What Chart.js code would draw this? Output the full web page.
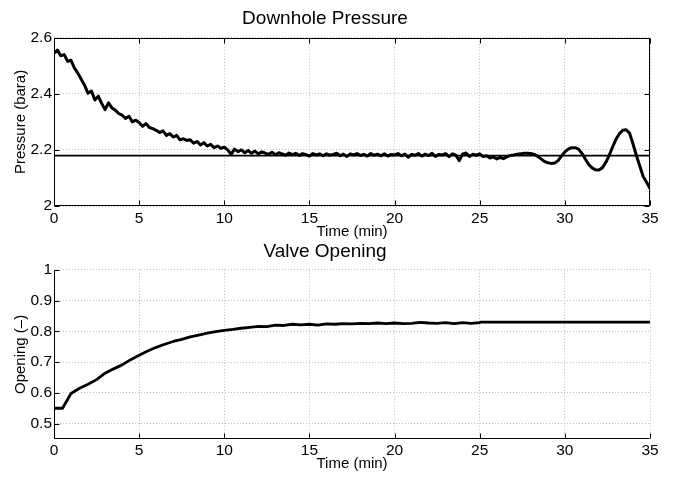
<!DOCTYPE html>
<html><head><meta charset="utf-8">
<script src="https://cdn.jsdelivr.net/npm/chart.js@4.4.0/dist/chart.umd.min.js"></script>
<style>
html,body{margin:0;padding:0;background:#fff;}
#wrap{position:relative;width:675px;height:477px;background:#fff;}
canvas{position:absolute;left:0;}
</style></head><body>
<div id="wrap">
<canvas id="c1" width="675" height="240" style="top:0px"></canvas>
<canvas id="c2" width="675" height="237" style="top:240px"></canvas>
</div>
<script>
// ---- data ----
const timeTicks = [0, 5, 10, 15, 20, 25, 30, 35];
const pressureTicks = [2, 2.2, 2.4, 2.6];
const openingTicks = [0.5, 0.6, 0.7, 0.8, 0.9, 1];

const pressureStep = 0.2; // sample interval (min) of the pressure record
const pressure = [
  2.545,2.556,2.536,2.540,2.516,2.520,2.492,2.474,2.452,2.430,
  2.402,2.410,2.378,2.392,2.366,2.344,2.368,2.350,2.342,2.330,
  2.324,2.312,2.320,2.300,2.306,2.298,2.284,2.294,2.280,2.276,
  2.270,2.262,2.268,2.252,2.258,2.246,2.252,2.236,2.240,2.234,
  2.236,2.224,2.230,2.218,2.226,2.214,2.220,2.208,2.214,2.206,
  2.210,2.200,2.184,2.203,2.194,2.200,2.190,2.198,2.188,2.196,
  2.186,2.193,2.189,2.184,2.192,2.183,2.190,2.186,2.181,2.189,
  2.183,2.188,2.180,2.187,2.183,2.178,2.187,2.182,2.186,2.179,
  2.186,2.181,2.184,2.188,2.179,2.185,2.177,2.186,2.182,2.187,
  2.180,2.184,2.178,2.187,2.181,2.185,2.179,2.186,2.178,2.184,
  2.182,2.187,2.179,2.185,2.174,2.184,2.181,2.187,2.178,2.185,
  2.180,2.188,2.177,2.184,2.182,2.187,2.176,2.186,2.181,2.162,
  2.186,2.189,2.177,2.185,2.181,2.186,2.176,2.179,2.171,2.175,
  2.168,2.173,2.169,2.176,2.180,2.182,2.185,2.186,2.188,2.188,
  2.187,2.184,2.177,2.168,2.159,2.154,2.152,2.153,2.162,2.178,
  2.193,2.203,2.208,2.208,2.203,2.188,2.168,2.148,2.136,2.129,
  2.128,2.136,2.155,2.180,2.210,2.238,2.258,2.270,2.272,2.260,
  2.222,2.180,2.143,2.105,2.085,2.062
];
const setpointTime = [0, 35];
const setpointValue = [2.18, 2.18];

const valveTime = [0,0.5,1,1.5,2,2.5,3,3.5,4,4.5,5,5.5,6,6.5,7,7.5,8,8.5,9,9.5,
  10,10.5,11,11.5,12,12.5,13,13.5,14,14.5,15,15.5,16,16.5,17,17.5,18,18.5,19,19.5,
  20,20.5,21,21.5,22,22.5,23,23.5,24,24.5,25,25.05,35];
const valveOpening = [0.55,0.55,0.598,0.615,0.628,0.643,0.664,0.678,0.691,0.708,
  0.722,0.736,0.748,0.758,0.767,0.774,0.782,0.788,0.794,0.799,
  0.803,0.806,0.810,0.813,0.816,0.815,0.820,0.819,0.823,0.821,
  0.823,0.820,0.824,0.823,0.825,0.824,0.826,0.825,0.827,0.825,
  0.827,0.825,0.826,0.829,0.827,0.826,0.828,0.825,0.828,0.826,
  0.828,0.830,0.830];

// ---- build ----
const FONT = "'Liberation Sans', Arial, Helvetica, sans-serif";
const pressurePts = pressure.map((v, i) => ({x: +(i * pressureStep).toFixed(2), y: v}));
const setpointPts = setpointTime.map((t, i) => ({x: t, y: setpointValue[i]}));
const valvePts = valveTime.map((t, i) => ({x: t, y: valveOpening[i]}));

const frameTicks = {
  id: 'frameTicks',
  afterDraw(chart, args, opts) {
    const {ctx, chartArea: a} = chart;
    const x = chart.scales.x, y = chart.scales.y;
    const L = 5;
    const l = Math.round(a.left) + 0.5, r = Math.round(a.right) - 0.5;
    const t = Math.round(a.top) + 0.5, b = Math.round(a.bottom) - 0.5;
    ctx.save();
    ctx.strokeStyle = '#000';
    ctx.lineWidth = 1;
    ctx.setLineDash([]);
    ctx.beginPath();
    x.ticks.forEach(tk => {
      const px = Math.round(x.getPixelForValue(tk.value)) + 0.5;
      ctx.moveTo(px, b); ctx.lineTo(px, b - L);
      if (opts.box) { ctx.moveTo(px, t); ctx.lineTo(px, t + L); }
    });
    y.ticks.forEach(tk => {
      const py = Math.round(y.getPixelForValue(tk.value)) + 0.5;
      ctx.moveTo(l, py); ctx.lineTo(l + L, py);
      if (opts.box) { ctx.moveTo(r, py); ctx.lineTo(r - L, py); }
    });
    ctx.moveTo(l, t); ctx.lineTo(l, b); ctx.lineTo(r, b);
    if (opts.box) { ctx.lineTo(r, t); ctx.lineTo(l, t); }
    ctx.stroke();
    ctx.restore();
  }
};

function fmt(v) { return String(+Number(v).toFixed(2)); }

function makeOptions(cfg) {
  return {
    responsive: false,
    animation: false,
    devicePixelRatio: 1,
    events: [],
    layout: {padding: {left: 0, right: 25, top: 0, bottom: 0}},
    plugins: {
      legend: {display: false},
      tooltip: {enabled: false},
      title: {
        display: true, text: cfg.title, color: '#000',
        font: {family: FONT, size: 19, weight: 'normal', lineHeight: 1.2},
        padding: cfg.titlePad
      },
      frameTicks: {box: cfg.box}
    },
    scales: {
      x: {
        type: 'linear', min: 0, max: 35,
        afterFit: s => { s.height = cfg.xHeight; },
        afterBuildTicks: s => { s.ticks = timeTicks.map(v => ({value: v})); },
        ticks: {color: '#000', font: {family: FONT, size: 15.5, lineHeight: 1.2}, padding: cfg.xTickPad,
                maxRotation: 0, autoSkip: false, callback: fmt},
        grid: {color: '#bdbdbd', lineWidth: 1, drawTicks: false},
        border: {display: false, dash: [1, 2]},
        title: {display: true, text: 'Time (min)', color: '#000',
                font: {family: FONT, size: 15, lineHeight: 1.2},
                padding: {top: 0, bottom: cfg.xTitlePad}}
      },
      y: {
        type: 'linear', min: cfg.yMin, max: cfg.yMax,
        afterFit: s => { s.width = 54; },
        afterBuildTicks: s => { s.ticks = cfg.yTicks.map(v => ({value: v})); },
        ticks: {color: '#000', font: {family: FONT, size: 15.5, lineHeight: 1.2}, padding: 2,
                autoSkip: false, callback: fmt},
        grid: {color: '#bdbdbd', lineWidth: 1, drawTicks: false},
        border: {display: false, dash: [1, 2]},
        title: {display: true, text: cfg.yTitle, color: '#000',
                font: {family: FONT, size: 15, lineHeight: 1.2},
                padding: {top: 12, bottom: 0}}
      }
    }
  };
}

new Chart(document.getElementById('c1'), {
  type: 'line',
  data: {datasets: [
    {data: setpointPts, borderColor: '#000', borderWidth: 1.8, pointRadius: 0, tension: 0, fill: false},
    {data: pressurePts, borderColor: '#000', borderWidth: 3, borderJoinStyle: 'round', pointRadius: 0, tension: 0, fill: false}
  ]},
  options: makeOptions({
    title: 'Downhole Pressure', titlePad: {top: 7, bottom: 8}, box: true,
    xHeight: 34, xTickPad: 3, xTitlePad: -1,
    yMin: 2, yMax: 2.6, yTicks: pressureTicks, yTitle: 'Pressure (bara)'
  }),
  plugins: [frameTicks]
});

new Chart(document.getElementById('c2'), {
  type: 'line',
  data: {datasets: [
    {data: valvePts, borderColor: '#000', borderWidth: 2.8, borderJoinStyle: 'round', pointRadius: 0, tension: 0, fill: false}
  ]},
  options: makeOptions({
    title: 'Valve Opening', titlePad: {top: 0, bottom: 7}, box: false,
    xHeight: 38, xTickPad: 2, xTitlePad: 4,
    yMin: 0.45, yMax: 1, yTicks: openingTicks, yTitle: 'Opening (–)'
  }),
  plugins: [frameTicks]
});
</script>
</body></html>
